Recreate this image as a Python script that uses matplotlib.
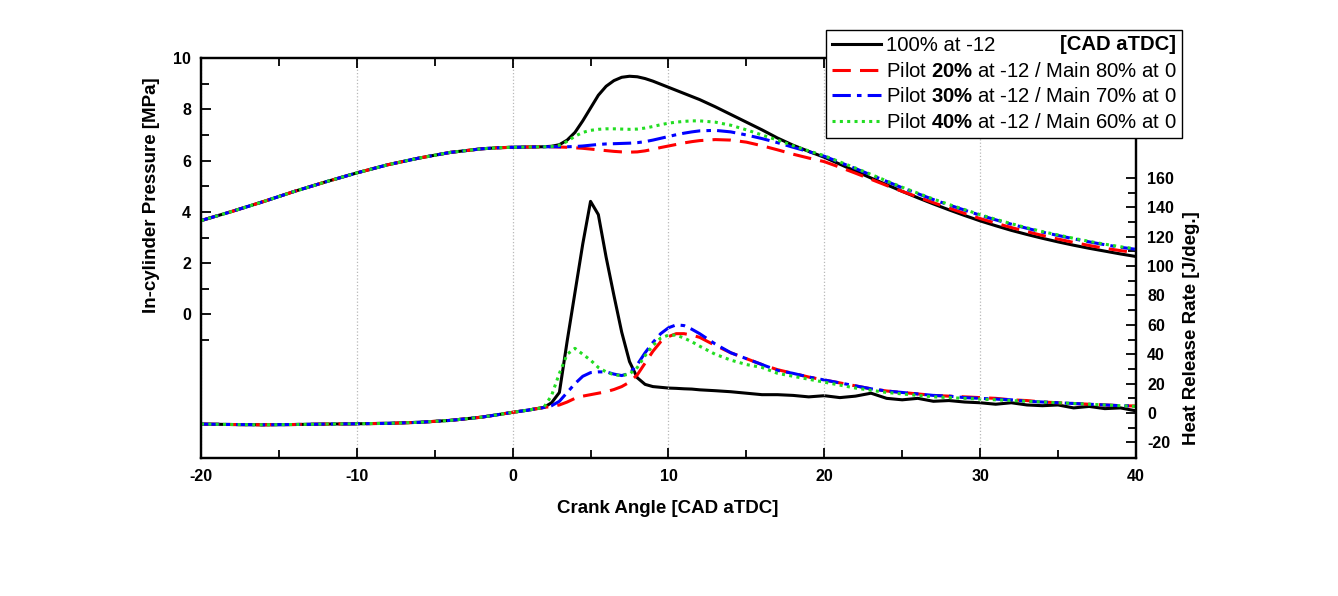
import matplotlib
matplotlib.use("Agg")
import matplotlib.pyplot as plt
from matplotlib.ticker import MultipleLocator

plt.rcParams['font.family'] = ['Liberation Sans', 'DejaVu Sans']
plt.rcParams['mathtext.fontset'] = 'custom'
plt.rcParams['mathtext.rm'] = 'Liberation Sans'
plt.rcParams['mathtext.bf'] = 'Liberation Sans:bold'
plt.rcParams['axes.unicode_minus'] = False

# crank angle [CAD aTDC]
cad = [-20, -18, -16, -14, -12, -10, -8, -6, -4, -2, -1, 0, 1, 2,
       2.5, 3, 3.5, 4, 4.5, 5, 5.5, 6, 6.5, 7, 7.5, 8, 8.5, 9, 9.5, 10,
       10.5, 11, 11.5, 12, 13, 14, 15, 16, 17, 18, 19, 20, 21, 22, 23, 24,
       25, 26, 27, 28, 29, 30, 31, 32, 33, 34, 35, 36, 37, 38, 39, 40]

# pressure before combustion (shared by all cases), -20 .. 2
p_motored = [3.66, 4.02, 4.40, 4.80, 5.17, 5.52, 5.84, 6.10, 6.32, 6.46, 6.50, 6.52, 6.53, 6.54]

# in-cylinder pressure [MPa], 2.5 .. 40
p_100 = [6.56, 6.62, 6.80, 7.10, 7.55, 8.05, 8.55, 8.90, 9.12, 9.25, 9.29, 9.27, 9.20, 9.10, 8.98, 8.86,
         8.74, 8.62, 8.50, 8.38, 8.10, 7.80, 7.50, 7.20, 6.88, 6.60, 6.36, 6.13, 5.86, 5.59,
         5.32, 5.06, 4.80, 4.55, 4.31, 4.08, 3.86, 3.65, 3.46, 3.28, 3.12, 2.97, 2.83, 2.70,
         2.58, 2.47, 2.36, 2.26]
p_20 = [6.54, 6.53, 6.52, 6.50, 6.48, 6.45, 6.42, 6.39, 6.36, 6.34, 6.33, 6.34, 6.38, 6.44, 6.51, 6.57,
        6.63, 6.69, 6.74, 6.78, 6.82, 6.80, 6.72, 6.58, 6.42, 6.25, 6.10, 5.96, 5.74, 5.51,
        5.27, 5.03, 4.80, 4.58, 4.36, 4.15, 3.94, 3.74, 3.56, 3.39, 3.23, 3.08, 2.94, 2.81,
        2.69, 2.58, 2.49, 2.41]
p_30 = [6.54, 6.54, 6.54, 6.55, 6.57, 6.60, 6.63, 6.65, 6.66, 6.67, 6.68, 6.70, 6.74, 6.80, 6.87, 6.94,
        7.01, 7.07, 7.12, 7.16, 7.18, 7.12, 7.00, 6.86, 6.70, 6.52, 6.35, 6.17, 5.93, 5.69,
        5.44, 5.19, 4.94, 4.71, 4.48, 4.27, 4.07, 3.87, 3.69, 3.52, 3.36, 3.21, 3.08, 2.95,
        2.83, 2.72, 2.62, 2.54]
p_40 = [6.55, 6.60, 6.75, 6.95, 7.10, 7.18, 7.22, 7.24, 7.24, 7.23, 7.22, 7.23, 7.27, 7.33, 7.40, 7.46,
        7.50, 7.53, 7.55, 7.55, 7.50, 7.38, 7.20, 7.00, 6.80, 6.58, 6.38, 6.19, 5.95, 5.71,
        5.46, 5.21, 4.96, 4.73, 4.50, 4.29, 4.09, 3.89, 3.71, 3.54, 3.38, 3.23, 3.10, 2.97,
        2.85, 2.74, 2.64, 2.56]

# heat release rate before combustion (shared), -20 .. 2
hrr_motored = [-7.5, -7.8, -8.0, -7.8, -7.5, -7.3, -7.0, -6.3, -5.0, -2.8, -1.2, 0.5, 2.0, 3.8]

# heat release rate [J/deg.], 2.5 .. 40
hrr_100 = [7, 14, 49, 82, 115, 144, 135, 106, 80, 55, 35, 24, 19.5, 18, 17.5, 17,
           16.8, 16.5, 16.3, 15.8, 15.2, 14.5, 13.5, 12.5, 12.5, 12.0, 11.0, 11.8, 10.5, 11.5,
           13.5, 10.0, 9.0, 10.0, 8.0, 8.5, 7.5, 7.0, 6.0, 7.0, 5.5, 5.0, 5.5, 3.5,
           4.5, 3.0, 3.5, 1.5]
hrr_20 = [4.5, 5.5, 7.5, 10, 11.5, 12.5, 13.5, 14.5, 16, 18, 21, 26, 34, 42, 48.5, 52,
          54, 54, 53, 51.5, 46, 41, 37, 33, 29.5, 27, 24.5, 22.5, 20.5, 18.5,
          16.5, 15, 14, 13, 12, 11.5, 11, 10.5, 10, 9, 8.5, 7.5, 7, 6.5,
          6, 5.5, 5, 4.8]
hrr_30 = [5, 8, 14, 20, 25, 27.5, 28, 28, 26.5, 25.5, 27, 33, 41, 48, 54, 58,
          60, 59.5, 57, 54, 47, 41, 37, 33, 29, 27, 24.5, 22.5, 20.5, 18.5,
          16.5, 15, 14, 13, 12, 11.5, 10.5, 10, 9.5, 9, 8, 7.5, 7, 6.5,
          6, 5.5, 5, 4.8]
hrr_40 = [12, 27, 40, 44, 40, 36, 31, 28, 26, 25.5, 26.5, 31, 39, 46, 51, 53,
          53, 51, 48.5, 45.5, 40, 36, 33, 31, 27, 25, 23, 21, 19, 17,
          15.5, 14, 13, 12, 11, 10.5, 10, 9.5, 9, 8.5, 8, 7.5, 7, 6.5,
          6, 5.5, 5, 4.5]

labels = ['100% at -12',
          'Pilot $\\mathbf{20\\%}$ at -12 / Main 80% at 0',
          'Pilot $\\mathbf{30\\%}$ at -12 / Main 70% at 0',
          'Pilot $\\mathbf{40\\%}$ at -12 / Main 60% at 0']

styles = [dict(color='black', lw=2.2, ls='-'),
          dict(color='#ff0000', lw=2.2, ls=(0, (6, 3))),
          dict(color='#0000ff', lw=2.2, ls=(0, (6, 2, 1.5, 2))),
          dict(color='#22dd22', lw=2.2, ls=(0, (1, 1.4)))]

pressures = [p_100, p_20, p_30, p_40]
hrrs = [hrr_100, hrr_20, hrr_30, hrr_40]

fig = plt.figure(figsize=(13.38, 5.96), dpi=100)
ax = fig.add_axes([0.1502, 0.2315, 0.6988, 0.6711])
ax2 = ax.twinx()

handles = []
for p, h, lab, st in zip(pressures, hrrs, labels, styles):
    ln, = ax.plot(cad, p_motored + p, label=lab, **st)
    ax2.plot(cad, hrr_motored + h, **st)
    handles.append(ln)

ax.set_xlim(-20, 40)
ax.set_ylim(-5.6, 10)
ax2.set_ylim(-30.6, 241.5)

ax.set_xticks([-20, -10, 0, 10, 20, 30, 40])
ax.xaxis.set_minor_locator(MultipleLocator(5))
ax.set_yticks([0, 2, 4, 6, 8, 10])
ax.set_yticks([-1, 1, 3, 5, 7, 9], minor=True)
ax2.set_yticks([-20, 0, 20, 40, 60, 80, 100, 120, 140, 160])
ax2.set_yticks(list(range(-10, 160, 20)), minor=True)

ax.grid(axis='x', which='major', color='#b8b8b8', ls=':', lw=0.9)

for a in (ax, ax2):
    for s in a.spines.values():
        s.set_linewidth(1.6)
ax.tick_params(axis='both', which='both', direction='in', top=True, width=1.3, labelsize=11.5)
ax.tick_params(which='major', length=7)
ax.tick_params(which='minor', length=6)
ax.tick_params(axis='x', which='both', pad=8)
ax.tick_params(axis='y', which='both', pad=7, right=False)
ax2.tick_params(axis='y', which='both', direction='in', width=1.3, labelsize=11.5, pad=8)
ax2.tick_params(which='major', length=7)
ax2.tick_params(which='minor', length=6)
for t in ax.get_xticklabels() + ax.get_yticklabels() + ax2.get_yticklabels():
    t.set_fontweight('bold')

ax.set_xlabel('Crank Angle [CAD aTDC]', fontsize=13.5, fontweight='bold')
ax.set_ylabel('In-cylinder Pressure [MPa]', fontsize=13.5, fontweight='bold')
ax2.set_ylabel('Heat Release Rate [J/deg.]', fontsize=13.5, fontweight='bold')
ax.xaxis.set_label_coords(0.4995, -0.105)
ax.yaxis.set_label_coords(-0.044, 0.6575)
ax2.yaxis.set_label_coords(1.050, 0.325)

leg = ax.legend(handles=handles, loc='upper left', bbox_to_anchor=(0.6173, 0.9497),
                bbox_transform=fig.transFigure, fontsize=14.6, frameon=True, fancybox=False,
                framealpha=1, edgecolor='black', handlelength=2.4, handletextpad=0.25,
                labelspacing=0.33, borderpad=0.3, borderaxespad=0)
leg.get_frame().set_linewidth(1.0)
leg.set_zorder(10)
ax.set_zorder(ax2.get_zorder() + 1)
ax.patch.set_visible(False)

fig.text(1176 / 1338, 1 - 44 / 596, '[CAD aTDC]', ha='right', va='center',
         fontsize=14.6, fontweight='bold', zorder=20)

fig.savefig('out.png', dpi=100)
